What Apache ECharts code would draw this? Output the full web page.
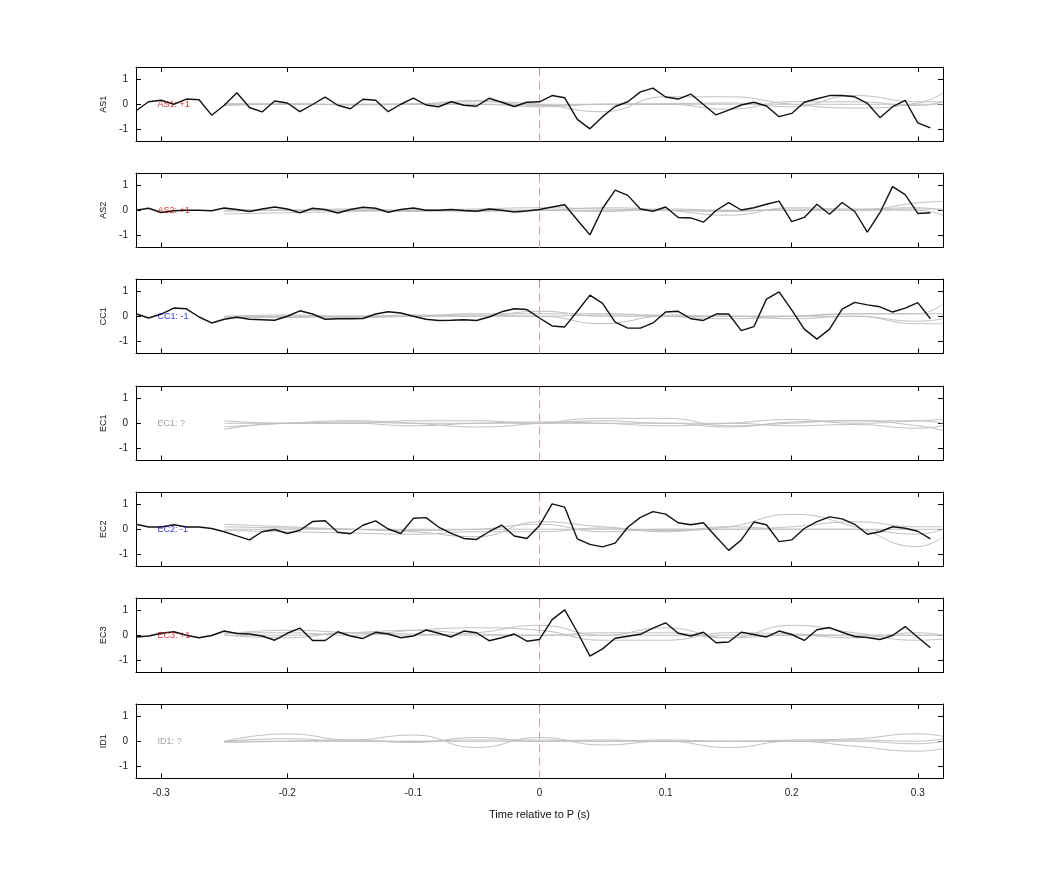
<!DOCTYPE html>
<html><head><meta charset="utf-8">
<script src="https://cdn.jsdelivr.net/npm/echarts@6/dist/echarts.min.js"></script>
<style>html,body{margin:0;padding:0;background:#fff}#c{width:1042px;height:875px}</style>
</head><body><div id="c"></div>
<script>
const stations = ['AS1','AS2','CC1','EC1','EC2','EC3','ID1'];
const polarity = ['+1','+1','-1','?','-1','+1','?'];
const xTicks = [-0.3,-0.2,-0.1,0,0.1,0.2,0.3];
const yTicks = [-1,0,1];
const blackStart = -0.32;
const AS1 = [-0.26,0.10,0.16,0,0.21,0.18,-0.44,-0.04,0.46,-0.13,-0.31,0.13,0.05,-0.30,-0.01,0.29,-0.04,-0.18,0.20,0.16,-0.30,0,0.25,-0.03,-0.10,0.10,-0.04,-0.08,0.24,0.08,-0.09,0.08,0.10,
 0.35,0.26,-0.61,-0.99,-0.50,-0.09,0.10,0.50,0.65,0.29,0.21,0.41,-0.01,-0.43,-0.24,-0.03,0.08,-0.07,-0.50,-0.37,0.08,0.22,0.35,0.35,0.30,0.04,-0.54,-0.10,0.16,-0.75,-0.95];
const AS2 = [0,0.08,-0.09,-0.02,0,0,-0.02,0.09,0.03,-0.05,0.05,0.13,0.05,-0.10,0.08,0.03,-0.11,0.03,0.12,0.08,-0.08,0.03,0.09,0,0,0.03,-0.01,-0.04,0.05,0,-0.07,-0.03,0.03,
 0.13,0.22,-0.39,-0.99,0.07,0.81,0.60,0.05,-0.04,0.13,-0.29,-0.31,-0.48,-0.01,0.31,0.01,0.10,0.24,0.37,-0.46,-0.29,0.24,-0.16,0.31,-0.05,-0.88,-0.10,0.95,0.63,-0.13,-0.10];
const CC1 = [0.10,-0.07,0.09,0.33,0.30,-0.03,-0.27,-0.12,-0.04,-0.12,-0.14,-0.16,0,0.22,0.09,-0.12,-0.10,-0.10,-0.09,0.09,0.18,0.13,0,-0.12,-0.17,-0.16,-0.14,-0.17,-0.03,0.18,0.30,0.27,-0.07,
 -0.39,-0.43,0.20,0.85,0.52,-0.24,-0.48,-0.48,-0.27,0.17,0.20,-0.10,-0.17,0.09,0.09,-0.58,-0.42,0.69,0.98,0.26,-0.52,-0.92,-0.52,0.29,0.56,0.46,0.38,0.17,0.33,0.55,-0.10];
const EC2 = [0.20,0.09,0.09,0.18,0.09,0.09,0.03,-0.10,-0.27,-0.43,-0.10,-0.01,-0.17,-0.04,0.31,0.34,-0.12,-0.18,0.16,0.34,0.01,-0.17,0.44,0.47,0.09,-0.17,-0.37,-0.41,-0.10,0.17,-0.27,-0.37,0.15,
 1.02,0.89,-0.39,-0.61,-0.71,-0.56,0.08,0.48,0.71,0.61,0.26,0.18,0.26,-0.30,-0.85,-0.43,0.29,0.18,-0.50,-0.43,0.03,0.31,0.50,0.42,0.20,-0.20,-0.10,0.10,0.04,-0.08,-0.39];
const EC3 = [-0.07,-0.03,0.08,0.14,0,-0.10,-0.01,0.17,0.07,0.05,-0.03,-0.20,0.08,0.29,-0.21,-0.21,0.14,-0.03,-0.13,0.12,0.05,-0.10,-0.03,0.21,0.08,-0.07,0.17,0.10,-0.22,-0.10,0.05,-0.24,-0.17,
 0.63,1.02,0.13,-0.84,-0.55,-0.12,-0.04,0.04,0.29,0.50,0.08,-0.03,0.12,-0.30,-0.27,0.12,0.03,-0.07,0.17,0.03,-0.21,0.22,0.31,0.12,-0.05,-0.09,-0.17,-0.01,0.35,-0.08,-0.50];
const blackTraces = [AS1, AS2, CC1, null, EC2, EC3, null];
// gray traces sampled at these times
const grayTimes = [-0.25,-0.2,-0.15,-0.1,-0.05,0,0.05,0.1,0.15,0.2,0.25,0.3,0.32];
const grayAS1 = [[0,0,0,0.02,0.1,0,-0.3,0.3,0.3,0,-0.15,0.05,0.45],[-0.05,0,-0.02,0,0.15,-0.05,0,0.02,0.05,-0.1,0.35,0.1,0.1],[0.02,0,0,0,0,0,0,0,0,0,0,0,0],[0,0.02,-0.02,0,0,-0.1,0,0,-0.2,0.1,0.1,-0.05,0.1]];
const grayAS2 = [[-0.15,-0.1,-0.05,0,0.05,0.1,0.05,0,-0.05,0.05,0,0.3,0.35],[0,0,0.05,0,0,0,0.1,0,-0.2,0.1,0.05,0.1,0],[0.05,0,0,0,-0.05,0,0,0,0,0,0,0,-0.2],[-0.05,0,0,-0.05,0,0,-0.05,0.05,0,0,0,0.05,0.05]];
const grayCC1 = [[-0.05,0,-0.05,0,0.1,0.1,0.1,0,-0.1,0,0.1,0.1,0.5],[0,0,0,0.05,0,0.2,0,0,0,0,0,-0.2,-0.1],[-0.05,-0.05,0,0,0,0,-0.3,0,0,-0.1,0,-0.3,-0.3],[0,0.05,0,0,0.05,0,0.05,0.05,0,0,0.1,0.1,0.1]];
const grayEC1 = [[-0.15,0,0.1,0,-0.15,0,0.2,0.2,-0.1,0,0.1,-0.1,-0.3],[-0.25,0,0,0.1,0.1,0,0,0,-0.15,0.05,0.1,0.1,0],[0.1,0,0,-0.1,0,0.05,0,-0.1,0,0.15,0,0.1,0.15],[0,0,0.05,0,0,0,0.1,0,0,-0.1,-0.05,-0.2,-0.1]];
const grayEC2 = [[0.2,0.1,0,-0.1,-0.3,0.3,0.1,-0.05,0.1,0.6,0.1,-0.7,-0.3],[0.1,0.05,0,-0.05,0,0.2,-0.1,0,0,0.1,0.3,0.1,0.1],[-0.05,-0.1,-0.15,-0.2,-0.1,-0.1,0.05,-0.1,0.1,0,0,-0.2,0],[0,0,0,0,0,0,0,0,0,0,0,0,0]];
const grayEC3 = [[0.05,0.2,0.1,0,0.1,0.4,0,0.3,-0.1,0.4,0.1,-0.2,-0.15],[0.1,0.1,0,0.2,0.3,0.2,-0.2,-0.2,0.1,0.05,0,0,0],[0,0,0.1,0.2,0.05,0,0.1,0.1,-0.1,0,-0.1,0.1,0],[0,-0.1,0.1,0.05,0,0,0,0,0,0,0,0,0]];
const grayID1 = [[0,0.3,0.05,0.25,-0.25,0.15,-0.15,0,-0.25,0,-0.2,-0.4,-0.3],[0,0.1,0,0,0.05,0.05,0,0.05,0,0.05,0.1,0.3,0.2],[0,0,0,0,0,0,0,0,0,0,0,-0.1,0],[-0.05,0,0.05,-0.05,0.15,0,0.05,0,0,0,0.05,0,0.1]];
const grayTraces = [grayAS1, grayAS2, grayCC1, grayEC1, grayEC2, grayEC3, grayID1];

const polColor = {'+1':'#d00000','-1':'#0000d0','?':'#888888'};
const tops = [67,173,279,386,492,598,704];
const grid=[], xAxis=[], yAxis=[], series=[];
stations.forEach((st,i)=>{
  grid.push({left:136, width:807, top:tops[i], height:74.5, show:false});
  const last = i===stations.length-1;
  const baseX = {gridIndex:i, type:'value', min:-0.32, max:0.32,
    axisLine:{show:true, onZero:false, lineStyle:{color:'#000',width:1}},
    axisTick:{show:true, inside:true, length:5, customValues:xTicks, lineStyle:{color:'#000'}},
    splitLine:{show:false}};
  xAxis.push(Object.assign({}, baseX, {position:'bottom',
    axisLabel:{show:last, customValues:xTicks, color:'#222', fontSize:10, fontFamily:'Liberation Sans', margin:10, formatter:v=>String(Math.round(v*10)/10)},
    name: last?'Time relative to P (s)':'', nameLocation:'middle', nameGap:31, nameTextStyle:{fontSize:11, color:'#111', fontFamily:'Liberation Sans'}}));
  xAxis.push(Object.assign({}, baseX, {position:'top', axisLabel:{show:false}}));
  const baseY = {gridIndex:i, type:'value', min:-1.5, max:1.5,
    axisLine:{show:true, onZero:false, lineStyle:{color:'#000',width:1}},
    axisTick:{show:true, inside:true, length:5, customValues:yTicks, lineStyle:{color:'#000'}},
    splitLine:{show:false}};
  yAxis.push(Object.assign({}, baseY, {position:'left',
    axisLabel:{customValues:yTicks, color:'#222', fontSize:10, fontFamily:'Liberation Sans', margin:8},
    name:st, nameLocation:'middle', nameGap:26, nameRotate:90, nameTextStyle:{fontSize:9, color:'#111', fontFamily:'Liberation Sans'}}));
  yAxis.push(Object.assign({}, baseY, {position:'right', axisLabel:{show:false}}));
  const xi = 2*i, yi = 2*i;
  grayTraces[i].forEach((g,k)=>{
    series.push({type:'line', xAxisIndex:xi, yAxisIndex:yi, smooth:0.5, symbol:'none',
      lineStyle:{color:'#c0c0c0', width:1}, silent:true, z:2,
      data: g.map((v,j)=>[grayTimes[j], v]),
      markLine: k===0 ? {silent:true, symbol:'none', label:{show:false},
        lineStyle:{color:'#c9a3a3', type:[8,5], width:1}, data:[{xAxis:0}]} : undefined});
  });
  const b = blackTraces[i];
  if (b) series.push({type:'line', xAxisIndex:xi, yAxisIndex:yi, symbol:'none', z:5,
    lineStyle:{color:'#111', width:1.4}, data: b.map((v,j)=>[+(blackStart+j*0.01).toFixed(2), v])});
  series.push({type:'scatter', xAxisIndex:xi, yAxisIndex:yi, symbolSize:0, z:6, silent:true,
    data:[[-0.303,0]],
    label:{show:true, position:'right', distance:0, formatter: st+': '+polarity[i],
      color:polColor[polarity[i]], fontSize:9, fontFamily:'Liberation Sans'}});
});
const chart = echarts.init(document.getElementById('c'), null, {renderer:'canvas'});
chart.setOption({animation:false, backgroundColor:'#fff', grid, xAxis, yAxis, series});
</script></body></html>
